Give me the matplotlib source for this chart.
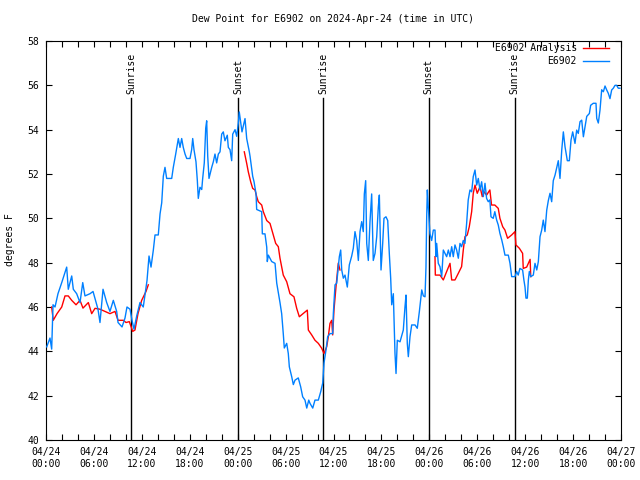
#!/usr/bin/env python3
# Dew point for station E6902, observed vs analysis, 3 days from 2024-04-24 UTC.
# Values read off the reference plot (hours since 04/24 00:00 UTC, deg F).

import numpy as np
import matplotlib
matplotlib.use("Agg")
import matplotlib.pyplot as plt
from matplotlib.ticker import MultipleLocator

plt.rcParams["font.family"] = ["DejaVu Sans Mono"]
plt.rcParams["font.size"] = 7

TITLE = "Dew Point for E6902 on 2024-Apr-24 (time in UTC)"

# --- observed (blue) ---
obs_hours = [
    0.09, 0.5, 0.71, 0.88, 1.13, 1.5, 1.97, 2.59, 2.79, 3.22, 3.42, 3.84, 4.26, 4.6,
    4.88, 5.51, 5.89, 6.51, 6.76, 7.14, 7.6, 8.01, 8.43, 8.85, 9.02, 9.52, 9.89,
    10.14, 10.52, 10.77, 11.02, 11.36, 11.77, 12.18, 12.65, 12.9, 13.15, 13.44,
    13.65, 14.06, 14.28, 14.49, 14.69, 14.9, 15.11, 15.74, 15.94, 16.24, 16.57,
    16.78, 16.99, 17.19, 17.41, 17.62, 18.03, 18.24, 18.37, 18.53, 18.78, 18.95,
    19.07, 19.28, 19.5, 19.62, 19.82, 20.0, 20.12, 20.25, 20.41, 20.75, 20.95,
    21.16, 21.37, 21.58, 21.79, 22.0, 22.2, 22.41, 22.7, 22.83, 23.04, 23.25,
    23.38, 23.67, 23.88, 24.08, 24.2, 24.54, 24.92, 25.13, 25.46, 25.55, 25.88,
    26.05, 26.3, 26.38, 27.01, 27.09, 27.42, 27.64, 27.71, 27.84, 28.26, 28.68,
    28.89, 29.3, 29.51, 29.71, 29.84, 30.14, 30.34, 30.47, 30.77, 30.97, 31.18,
    31.59, 31.89, 32.14, 32.43, 32.65, 32.9, 33.06, 33.4, 33.68, 34.1, 34.4,
    34.65, 34.81, 35.06, 35.27, 35.56, 35.9, 35.98, 36.19, 36.4, 36.6, 36.73,
    36.9, 37.03, 37.23, 37.44, 37.73, 37.98, 38.28, 38.48, 38.69, 38.9, 39.11,
    39.32, 39.53, 39.73, 39.86, 40.03, 40.16, 40.36, 40.57, 40.78, 40.98, 41.2,
    41.41, 41.61, 41.74, 41.95, 42.16, 42.32, 42.57, 42.79, 42.99, 43.16, 43.29,
    43.49, 43.7, 43.83, 43.99, 44.33, 44.74, 44.95, 45.08, 45.24, 45.37, 45.58,
    45.79, 46.21, 46.49, 46.75, 47.05, 47.25, 47.46, 47.58, 47.67, 47.75, 47.87,
    48.08, 48.29, 48.5, 48.71, 48.83, 48.92, 49.12, 49.33, 49.55, 49.75, 49.96,
    50.17, 50.38, 50.59, 50.8, 51.0, 51.21, 51.42, 51.63, 51.84, 52.04, 52.25,
    52.46, 52.67, 52.87, 53.09, 53.3, 53.5, 53.72, 53.93, 54.13, 54.34, 54.55,
    54.76, 54.97, 55.17, 55.38, 55.58, 55.72, 56.0, 56.2, 56.43, 56.63, 56.84,
    57.07, 57.26, 57.47, 57.89, 58.1, 58.31, 58.72, 58.93, 59.13, 59.34, 59.68,
    59.84, 59.98, 60.1, 60.27, 60.4, 60.52, 60.7, 61.02, 61.23, 61.45, 61.65,
    61.86, 62.07, 62.27, 62.48, 62.7, 62.9, 63.11, 63.32, 63.52, 63.74, 64.15,
    64.36, 64.58, 64.78, 64.99, 65.28, 65.53, 65.74, 65.95, 66.24, 66.45, 66.65,
    66.87, 67.08, 67.29, 67.5, 67.71, 68.04, 68.2, 68.53, 68.87, 68.96, 69.16,
    69.37, 69.58, 69.79, 70.0, 70.21, 70.41, 70.62, 70.83, 71.04, 71.25, 71.46,
    71.66, 71.87,
]
obs_dewpt = [
    44.2, 44.6, 44.1, 46.1, 46.0, 46.6, 47.1, 47.8, 46.8, 47.4, 46.8, 46.6, 46.2, 47.1,
    46.5, 46.6, 46.7, 45.9, 45.3, 46.8, 46.2, 45.8, 46.3, 45.8, 45.3, 45.1, 45.5,
    46.0, 45.9, 45.4, 45.0, 45.6, 46.2, 46.0, 47.2, 48.3, 47.8, 48.57,
    49.25, 49.25, 50.2, 50.7, 51.9, 52.3, 51.8, 51.8, 52.3, 52.9, 53.6,
    53.2, 53.6, 53.2, 52.9, 52.7, 52.7, 53.1, 53.6, 53.1, 52.55, 51.7,
    50.9, 51.4, 51.3, 51.8, 52.5, 54.07, 54.4, 52.8, 51.8, 52.3, 52.55,
    52.9, 52.5, 52.9, 53.0, 53.8, 53.9, 53.5, 53.75, 53.2, 53.1, 52.6,
    53.8, 54.0, 53.7, 54.3, 54.8, 53.9, 54.5, 53.6, 53.0, 52.8, 51.9,
    51.65, 51.1, 50.4, 50.3, 49.3, 49.3, 48.7, 48.05, 48.34, 48.05, 47.97,
    47.08, 46.2, 45.7, 44.8, 44.15, 44.36, 43.9, 43.3, 42.85, 42.5, 42.7,
    42.8, 42.4, 41.95, 41.8, 41.44, 41.8, 41.65, 41.44, 41.8, 41.8, 42.18,
    42.57, 43.47, 44.06, 44.66, 44.8, 44.8, 45.7, 47.0, 47.07, 47.8, 48.27,
    48.57, 47.67, 47.3, 47.44, 46.9, 47.9, 48.3, 48.65, 49.4, 49.0, 48.1,
    49.4, 49.85, 49.4, 51.1, 51.7, 48.87, 48.1, 49.85, 51.1, 48.1, 48.42,
    49.17, 50.5, 51.05, 47.67, 48.87, 50.0, 50.07, 49.9, 48.4, 47.3, 46.1,
    46.6, 43.9, 43.0, 44.5, 44.43, 44.96, 46.0, 46.54, 44.36, 43.76, 44.66,
    45.19, 45.19, 45.04, 45.79, 46.77, 46.5, 46.46, 47.8, 50.07, 51.28, 50.5,
    49.3, 49.0, 49.47, 49.47, 48.27, 48.87, 47.97, 47.82, 47.37, 48.57, 48.42,
    48.27, 48.57, 48.27, 48.72, 48.27, 48.8, 48.57, 48.2, 48.87, 48.72, 49.0,
    48.87, 49.77, 50.83, 51.28, 51.2, 51.88, 52.18, 51.5, 51.8, 51.28, 51.65,
    50.98, 51.58, 50.9, 50.75, 50.83, 50.07, 50.0, 50.3, 49.92, 49.7, 49.32,
    49.02, 48.72, 48.34, 48.34, 47.97, 47.37, 47.37, 47.6, 47.44, 47.74, 47.67,
    47.22, 46.9, 46.4, 46.4, 47.22, 47.6, 47.37, 47.44, 47.97, 47.67, 48.05,
    49.17, 49.47, 49.92, 49.4, 50.37, 50.8, 51.13, 50.75, 51.7, 51.95, 52.6,
    51.8, 53.08, 53.9, 53.23, 52.6, 52.6, 53.53, 53.9, 53.38, 53.98, 53.83,
    54.36, 54.43, 53.68, 54.13, 54.6, 54.73, 55.1, 55.19, 55.19, 54.51, 54.3,
    54.88, 55.8, 55.71, 55.97, 55.79, 55.64, 55.4, 55.79, 55.87, 56.0, 56.0,
    55.87, 55.87,
]

# --- analysis (red), NaN marks the gaps between runs ---
ana_hours = [
    0.71, 0.91, 1.38, 1.97, 2.38, 2.79, 3.22, 3.76, 4.26, 4.63, 5.3, 5.72, 6.14,
    6.76, 7.39, 8.01, 8.64, 9.02, 9.68, 10.02, 10.43, 10.86, 11.14, 11.52, 11.98,
    12.52, 12.81, 18.0,
    24.83, 25.13, 25.33, 25.63, 25.88, 26.17, 26.38, 26.58, 27.01, 27.21, 27.64,
    28.05, 28.46, 28.76, 29.09, 29.3, 29.71, 30.14, 30.55, 31.05, 31.39, 31.72,
    32.22, 32.72, 32.85, 33.27, 33.68, 34.1, 34.52, 34.81, 35.15, 35.35, 35.56,
    35.77, 35.9, 36.06, 36.31, 36.6, 36.81, 42.0,
    48.71, 48.75, 49.33, 49.75, 50.17, 50.59, 50.8, 51.21, 51.63, 52.04, 52.25,
    52.46, 52.75, 53.0, 53.3, 53.5, 53.72, 54.0, 54.34, 54.63, 54.85, 55.17,
    55.58, 55.79, 56.2, 56.63, 56.84, 57.19, 57.47, 57.8, 58.31, 58.72, 58.84,
    59.27, 59.68, 59.76, 60.19, 60.62, 60.7,
]
ana_dewpt = [
    46.0, 45.4, 45.7, 46.0, 46.5, 46.5, 46.3, 46.1, 46.3, 45.95, 46.2, 45.7, 45.94,
    45.9, 45.8, 45.7, 45.8, 45.4, 45.4, 45.3, 45.34, 44.9, 44.96, 45.7, 46.3,
    46.7, 47.0, np.nan,
    53.0, 52.48, 52.1, 51.65, 51.35, 51.28, 50.98, 50.75, 50.6, 50.3, 49.9,
    49.77, 49.25, 48.87, 48.72, 48.2, 47.44, 47.14, 46.6, 46.46, 45.94, 45.56,
    45.71, 45.86, 44.96, 44.74, 44.5, 44.36, 44.14, 43.9, 44.21, 44.66, 45.26,
    45.4, 44.74, 45.86, 46.9, 47.98, 47.67, np.nan,
    48.27, 47.44, 47.44, 47.22, 47.6, 47.97, 47.22, 47.22, 47.52, 47.82, 48.57,
    49.17, 49.25, 49.62, 50.3, 51.13, 51.5, 51.13, 51.43, 50.98, 51.2, 51.05,
    51.28, 50.6, 50.6, 50.45, 50.0, 49.62, 49.47, 49.1, 49.25, 49.4, 48.8,
    48.65, 48.42, 47.74, 47.8, 48.15, 47.37,
]

# sunrise / sunset markers
sun_hours = [10.64, 24.03, 34.67, 47.93, 58.7]
sun_labels = ["Sunrise", "Sunset", "Sunrise", "Sunset", "Sunrise"]

x_tick_hours = [0, 6, 12, 18, 24, 30, 36, 42, 48, 54, 60, 66, 72]
x_tick_labels = [
    "04/24\n00:00", "04/24\n06:00", "04/24\n12:00", "04/24\n18:00",
    "04/25\n00:00", "04/25\n06:00", "04/25\n12:00", "04/25\n18:00",
    "04/26\n00:00", "04/26\n06:00", "04/26\n12:00", "04/26\n18:00",
    "04/27\n00:00",
]

BLUE = "#0080ff"
RED = "#ff0000"


def main():
    fig = plt.figure(figsize=(6.4, 4.8), dpi=100)
    ax = fig.add_axes([46 / 640, 40 / 480, 575 / 640, 399 / 480])

    # sunrise/sunset lines with rotated labels above them
    for h, lab in zip(sun_hours, sun_labels):
        ax.plot([h, h], [40, 55.43], color="black", lw=1.0, zorder=1)
        ax.text(h, 55.62, lab, rotation=90, ha="center", va="bottom", fontsize=7)

    # analysis drawn first, obs on top (same order as the legend)
    l_ana, = ax.plot(ana_hours, ana_dewpt, color=RED, lw=1.0, zorder=2)
    l_obs, = ax.plot(obs_hours, obs_dewpt, color=BLUE, lw=1.0, zorder=3)

    ax.set_xlim(0, 72)
    ax.set_ylim(40, 58)
    ax.set_xticks(x_tick_hours)
    ax.set_xticklabels(x_tick_labels)
    ax.xaxis.set_minor_locator(MultipleLocator(2))
    ax.yaxis.set_major_locator(MultipleLocator(2))
    ax.tick_params(which="both", direction="in", top=True, right=True,
                   length=4, width=0.8)
    ax.tick_params(axis="x", pad=5)
    ax.tick_params(axis="y", pad=5)
    for s in ax.spines.values():
        s.set_linewidth(0.8)

    ax.set_title(TITLE, fontsize=7, pad=14)
    fig.text(10 / 640, 0.5, "degrees F", rotation=90, ha="center", va="center",
             fontsize=7)

    ax.legend([l_ana, l_obs], ["E6902 Analysis", "E6902"], loc="upper right",
              bbox_to_anchor=(0.979, 0.995), frameon=False, markerfirst=False,
              borderpad=0, borderaxespad=0, handlelength=2.7,
              handletextpad=0.6, labelspacing=0.35, fontsize=7)

    fig.savefig("out.png", dpi=100)
    plt.close(fig)


if __name__ == "__main__":
    main()
